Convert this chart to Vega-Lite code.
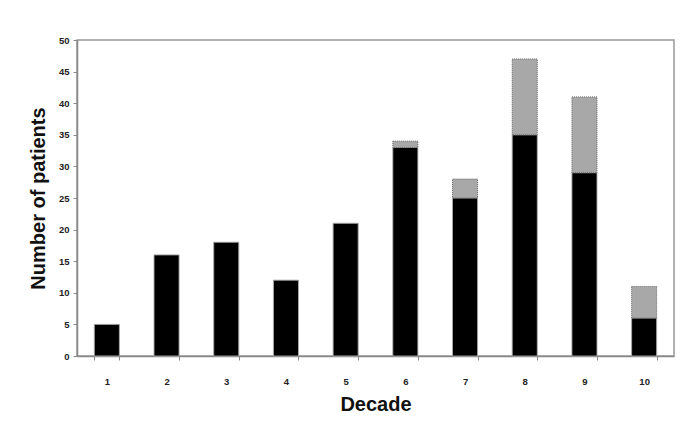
{
  "$schema": "https://vega.github.io/schema/vega-lite/v6.json",
  "width": 597,
  "height": 316,
  "autosize": {"type": "none"},
  "padding": {"left": 77, "top": 40, "right": 11, "bottom": 65},
  "background": "white",
  "config": {
    "view": {"stroke": "#999", "strokeWidth": 1.5},
    "font": "Liberation Sans"
  },
  "data": {
    "values": [
      {"decade": "1", "group": "A", "n": 5},
      {"decade": "2", "group": "A", "n": 16},
      {"decade": "3", "group": "A", "n": 18},
      {"decade": "4", "group": "A", "n": 12},
      {"decade": "5", "group": "A", "n": 21},
      {"decade": "6", "group": "A", "n": 33},
      {"decade": "6", "group": "B", "n": 1},
      {"decade": "7", "group": "A", "n": 25},
      {"decade": "7", "group": "B", "n": 3},
      {"decade": "8", "group": "A", "n": 35},
      {"decade": "8", "group": "B", "n": 12},
      {"decade": "9", "group": "A", "n": 29},
      {"decade": "9", "group": "B", "n": 12},
      {"decade": "10", "group": "A", "n": 6},
      {"decade": "10", "group": "B", "n": 5}
    ]
  },
  "mark": {"type": "bar", "strokeWidth": 1},
  "encoding": {
    "x": {
      "field": "decade",
      "type": "ordinal",
      "sort": ["1","2","3","4","5","6","7","8","9","10"],
      "scale": {"paddingInner": 0.58, "paddingOuter": 0.29},
      "axis": {
        "title": "Decade",
        "titleFont": "Liberation Sans",
        "titleFontSize": 20,
        "titleFontWeight": "bold",
        "titleColor": "#111",
        "titlePadding": 9,
        "labelAngle": 0,
        "labelFontSize": 9.5,
        "labelFontWeight": "bold",
        "labelColor": "#222",
        "labelPadding": 16,
        "tickBand": "extent",
        "tickSize": 4,
        "tickColor": "#888",
        "domainColor": "#888",
        "domainWidth": 1.5
      }
    },
    "y": {
      "field": "n",
      "type": "quantitative",
      "stack": "zero",
      "scale": {"domain": [0, 50], "nice": false},
      "axis": {
        "title": "Number of patients",
        "titleFont": "Liberation Sans",
        "titleFontSize": 20,
        "titleFontWeight": "bold",
        "titleColor": "#111",
        "titlePadding": 10,
        "values": [0,5,10,15,20,25,30,35,40,45,50],
        "labelFontSize": 9.5,
        "labelFontWeight": "bold",
        "labelColor": "#222",
        "labelPadding": 4,
        "tickSize": 4,
        "tickColor": "#888",
        "domainColor": "#888",
        "domainWidth": 1.5,
        "grid": false
      }
    },
    "color": {
      "field": "group",
      "type": "nominal",
      "scale": {"domain": ["A", "B"], "range": ["#000000", "#a8a8a8"]},
      "legend": null
    },
    "stroke": {
      "field": "group",
      "type": "nominal",
      "scale": {"domain": ["A", "B"], "range": ["#aaaaaa", "#666666"]},
      "legend": null
    },
    "strokeDash": {
      "field": "group",
      "type": "nominal",
      "scale": {"domain": ["A", "B"], "range": [[1, 0], [1, 1]]},
      "legend": null
    },
    "order": {"field": "group", "sort": "ascending"}
  }
}
